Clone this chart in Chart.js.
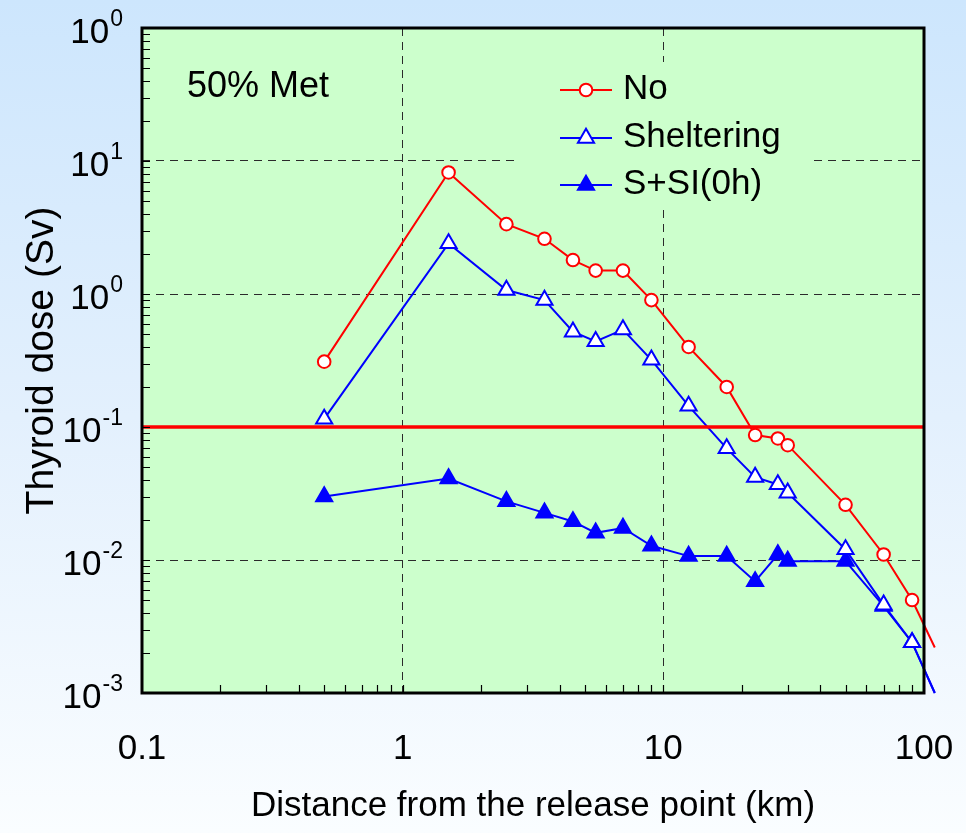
<!DOCTYPE html>
<html lang="en">
<head>
<meta charset="UTF-8">
<title>Thyroid dose - 50% Met</title>
<script src="https://cdn.jsdelivr.net/npm/chart.js"></script>
<style>
  html, body { margin: 0; padding: 0; background: #fff; }
  #wrap { width: 966px; height: 833px; }
</style>
</head>
<body>
<div id="wrap"><canvas id="chart" width="966" height="833"></canvas></div>
<script>
// distance from the release point (km); the last one lies just past the axis end
const distances = [0.5, 1.5, 2.5, 3.5, 4.5, 5.5, 7, 9, 12.5, 17.5, 22.5, 27.5, 30, 50, 70, 90, 110];
const doseNo = [0.31, 8.2, 3.35, 2.6, 1.8, 1.5, 1.5, 0.9, 0.4, 0.2, 0.087, 0.082, 0.073, 0.026, 0.011, 0.005, 0.0022];
const doseSheltering = [0.115, 2.4, 1.07, 0.9, 0.52, 0.44, 0.54, 0.32, 0.144, 0.069, 0.042, 0.037, 0.032, 0.012, 0.0046, 0.0024, 0.001];
const doseSSI = [0.030, 0.041, 0.0276, 0.0226, 0.0195, 0.016, 0.0174, 0.0128, 0.0107, 0.0107, 0.0069, 0.011, 0.0098, 0.0098, 0.0045, 0.0024, 0.001];
const thresholdDose = 0.1;

const xMin = 0.1, xMax = 100;
const yMin = 0.001, yMax = 100;
const xTickValues = [0.1, 1, 10, 100];
const xTickLabels = ['0.1', '1', '10', '100'];
const yTickValues = [0.001, 0.01, 0.1, 1, 10, 100];
const yTickExponents = ['-3', '-2', '-1', '0', '1', '0'];

const FONT = "'Liberation Sans', Arial, sans-serif";
Chart.defaults.font.family = FONT;
Chart.defaults.color = '#000';

const isDecade = v => Math.abs(Math.log10(v) - Math.round(Math.log10(v))) < 1e-9;
const near = (a, b) => Math.abs(Math.log10(a) - Math.log10(b)) < 1e-9;

// 1..9 x 10^k for every decade of the range
function logTicks(min, max) {
  const out = [];
  for (let e = Math.round(Math.log10(min)); e < Math.round(Math.log10(max)); e++) {
    for (let m = 1; m <= 9; m++) out.push(+(m * Math.pow(10, e)).toPrecision(6));
  }
  out.push(max);
  return out;
}

function innerMajorColor(ctx, min, max) {
  const v = ctx.tick && ctx.tick.value;
  if (!v || !isDecade(v) || near(v, min) || near(v, max)) return 'rgba(0,0,0,0)';
  return '#2a2a2a';
}

const toPoints = ys => distances.map((d, i) => ({ x: d, y: ys[i] }));
const markerSize = r => c => (c.raw && c.raw.x > xMax ? 0 : r);
const edgeClip = { left: 0, top: 0, right: 12, bottom: 3 };

function drawMarker(ctx, style, r, x, y, fill, stroke, lw) {
  ctx.beginPath();
  if (style === 'circle') {
    ctx.arc(x, y, r, 0, Math.PI * 2);
  } else {
    let a = 0;
    ctx.moveTo(x + Math.sin(a) * r, y - Math.cos(a) * r);
    a += Math.PI * 2 / 3;
    ctx.lineTo(x + Math.sin(a) * r, y - Math.cos(a) * r);
    a += Math.PI * 2 / 3;
    ctx.lineTo(x + Math.sin(a) * r, y - Math.cos(a) * r);
    ctx.closePath();
  }
  ctx.fillStyle = fill;
  ctx.fill();
  ctx.lineWidth = lw;
  ctx.strokeStyle = stroke;
  ctx.stroke();
}

const backdrop = {
  id: 'backdrop',
  beforeDraw(chart) {
    const { ctx, width, height, chartArea: a } = chart;
    const g = ctx.createLinearGradient(0, 0, 0, height);
    g.addColorStop(0, '#cde6fd');
    g.addColorStop(0.5, '#e3f0fd');
    g.addColorStop(1, '#fafdff');
    ctx.save();
    ctx.fillStyle = g;
    ctx.fillRect(0, 0, width, height);
    ctx.fillStyle = '#ccffcc';
    ctx.fillRect(a.left, a.top, a.right - a.left, a.bottom - a.top);
    ctx.restore();
  }
};

const decor = {
  id: 'decor',
  afterDraw(chart) {
    const { ctx, chartArea: a, scales: { x, y } } = chart;
    ctx.save();

    // small ticks pointing into the plot
    ctx.strokeStyle = '#000';
    ctx.lineWidth = 1.2;
    ctx.beginPath();
    y.ticks.forEach(t => {
      if (near(t.value, yMin) || near(t.value, yMax)) return;
      const py = Math.round(y.getPixelForValue(t.value)) + 0.5;
      ctx.moveTo(a.left, py);
      ctx.lineTo(a.left + 8, py);
    });
    x.ticks.forEach(t => {
      if (near(t.value, xMin) || near(t.value, xMax)) return;
      const px = Math.round(x.getPixelForValue(t.value)) + 0.5;
      ctx.moveTo(px, a.bottom);
      ctx.lineTo(px, a.bottom - 8);
    });
    ctx.stroke();

    // frame
    ctx.lineWidth = 3;
    ctx.strokeRect(a.left, a.top, a.right - a.left, a.bottom - a.top);

    // y tick labels: 10 with a raised exponent
    ctx.fillStyle = '#000';
    ctx.textBaseline = 'alphabetic';
    ctx.textAlign = 'left';
    yTickValues.forEach((v, i) => {
      const py = y.getPixelForValue(v);
      ctx.font = '35px ' + FONT;
      const wb = ctx.measureText('10').width;
      ctx.font = '23px ' + FONT;
      const we = ctx.measureText(yTickExponents[i]).width;
      const x0 = 123 - we - wb - 1;
      ctx.font = '35px ' + FONT;
      ctx.fillText('10', x0, py + 15);
      ctx.font = '23px ' + FONT;
      ctx.fillText(yTickExponents[i], x0 + wb + 1, py - 2);
    });

    // case note
    ctx.font = '36px ' + FONT;
    ctx.fillText('50% Met', 187, 97);

    // legend
    ctx.fillStyle = '#ccffcc';
    ctx.fillRect(518, 62, 292, 143);
    const rows = [90, 138, 185];
    chart.data.datasets.filter(d => d.legend).forEach((d, i) => {
      const ly = rows[i];
      ctx.strokeStyle = d.borderColor;
      ctx.lineWidth = d.borderWidth;
      ctx.beginPath();
      ctx.moveTo(560, ly);
      ctx.lineTo(612, ly);
      ctx.stroke();
      drawMarker(ctx, d.pointStyle, d.legendRadius, 586, ly, d.pointBackgroundColor, d.pointBorderColor, d.pointBorderWidth);
      ctx.fillStyle = '#000';
      ctx.font = '35px ' + FONT;
      ctx.fillText(d.label, 623, ly + 9);
    });

    ctx.restore();
  }
};

new Chart(document.getElementById('chart'), {
  type: 'line',
  data: {
    datasets: [
      {
        label: 'threshold',
        data: [{ x: xMin, y: thresholdDose }, { x: xMax, y: thresholdDose }],
        borderColor: '#ff0000',
        borderWidth: 3.5,
        pointRadius: 0,
        order: -1
      },
      {
        label: 'No', legend: true, legendRadius: 6.3,
        data: toPoints(doseNo),
        borderColor: '#ff0000', borderWidth: 2,
        pointStyle: 'circle', pointRadius: markerSize(6.3),
        pointBackgroundColor: '#ffffff', pointBorderColor: '#ff0000', pointBorderWidth: 2,
        clip: edgeClip, order: 1
      },
      {
        label: 'Sheltering', legend: true, legendRadius: 9.3,
        data: toPoints(doseSheltering),
        borderColor: '#0000ff', borderWidth: 2,
        pointStyle: 'triangle', pointRadius: markerSize(9.3),
        pointBackgroundColor: '#ffffff', pointBorderColor: '#0000ff', pointBorderWidth: 2,
        clip: edgeClip, order: 2
      },
      {
        label: 'S+SI(0h)', legend: true, legendRadius: 9.3,
        data: toPoints(doseSSI),
        borderColor: '#0000ff', borderWidth: 2,
        pointStyle: 'triangle', pointRadius: markerSize(9.3),
        pointBackgroundColor: '#0000ff', pointBorderColor: '#0000ff', pointBorderWidth: 2,
        clip: edgeClip, order: 3
      }
    ]
  },
  options: {
    responsive: false,
    animation: false,
    devicePixelRatio: 1,
    events: [],
    layout: { padding: { top: 28, right: 42, left: 0, bottom: 0 } },
    elements: { line: { tension: 0 } },
    plugins: { legend: { display: false }, tooltip: { enabled: false } },
    scales: {
      x: {
        type: 'logarithmic',
        min: xMin, max: xMax,
        afterBuildTicks: s => { s.ticks = logTicks(xMin, xMax).map(v => ({ value: v })); },
        afterFit: s => { s.height = 140; s.paddingLeft = 0; s.paddingRight = 0; },
        grid: { color: c => innerMajorColor(c, xMin, xMax), lineWidth: 1, drawTicks: false },
        border: { display: false, dash: [8, 6] },
        ticks: {
          autoSkip: false, maxRotation: 0, minRotation: 0, padding: 35,
          font: { size: 35 }, color: '#000',
          callback: v => {
            const i = xTickValues.findIndex(t => near(t, v));
            return i < 0 ? '' : xTickLabels[i];
          }
        },
        title: {
          display: true, text: 'Distance from the release point (km)',
          color: '#000', font: { size: 35 }, padding: { top: 0, bottom: 6 }
        }
      },
      y: {
        type: 'logarithmic',
        min: yMin, max: yMax,
        afterBuildTicks: s => { s.ticks = logTicks(yMin, yMax).map(v => ({ value: v })); },
        afterFit: s => { s.width = 142; s.paddingTop = 0; s.paddingBottom = 0; },
        grid: { color: c => innerMajorColor(c, yMin, yMax), lineWidth: 1, drawTicks: false },
        border: { display: false, dash: [8, 6] },
        ticks: { display: false },
        title: {
          display: true, text: 'Thyroid dose (Sv)',
          color: '#000', font: { size: 39 }, padding: { top: 19, bottom: 0 }
        }
      }
    }
  },
  plugins: [backdrop, decor]
});
</script>
</body>
</html>
